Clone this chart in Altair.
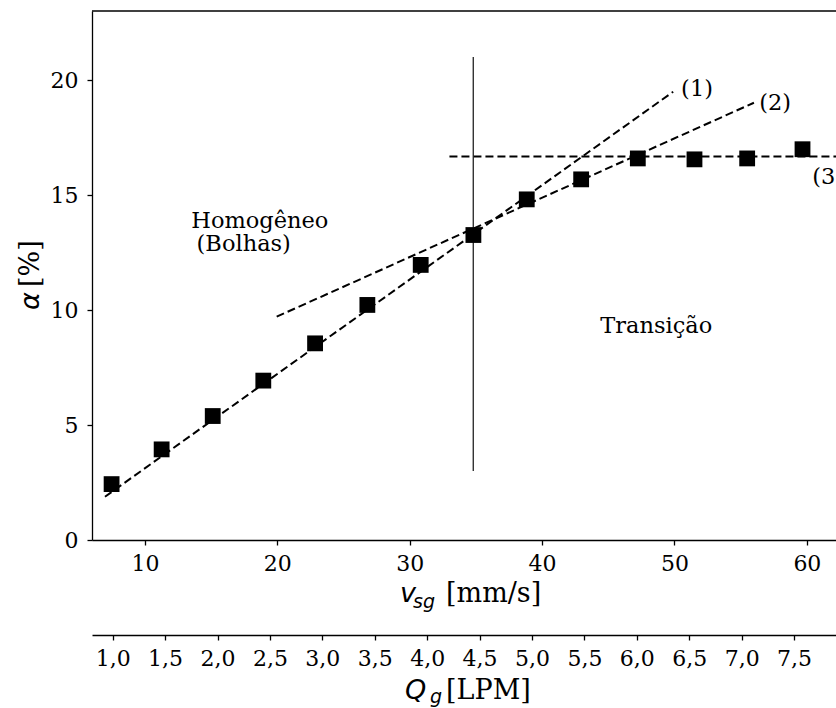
import altair as alt
import pandas as pd

# ---- data ----
vsg = [7.48, 11.26, 15.12, 18.94, 22.85, 26.80, 30.83, 34.81, 38.84, 42.95, 47.23, 51.51, 55.49, 59.67]
alpha = [2.43, 3.94, 5.39, 6.93, 8.55, 10.22, 11.96, 13.26, 14.81, 15.68, 16.59, 16.55, 16.59, 16.99]

fit1_x = [6.98, 49.9]
fit1_y = [1.88, 19.49]
fit2_x = [19.95, 56.0]
fit2_y = [9.71, 19.01]
fit3_x = [33.0, 64.0]
fit3_y = [16.67, 16.67]

vline_x = [34.8]
vline_y1 = [3.0]
vline_y2 = [21.0]

vsg_ticks = [10, 20, 30, 40, 50, 60]
alpha_ticks = [0, 5, 10, 15, 20]
q_ticks = [1.0, 1.5, 2.0, 2.5, 3.0, 3.5, 4.0, 4.5, 5.0, 5.5, 6.0, 6.5, 7.0, 7.5]

ann_text = ["(1)", "(2)", "(3)", "Homogêneo", "(Bolhas)", "Transição"]
ann_x = [50.5, 56.4, 60.4, 13.5, 13.9, 44.4]
ann_y = [19.3, 18.7, 15.5, 13.55, 12.58, 9.0]

# ---- tables ----
pts = pd.DataFrame({"vsg": vsg, "alpha": alpha})
fits = pd.DataFrame({
    "vsg": fit1_x + fit2_x + fit3_x,
    "alpha": fit1_y + fit2_y + fit3_y,
    "serie": ["1"] * 2 + ["2"] * 2 + ["3"] * 2,
})
vl = pd.DataFrame({"vsg": vline_x, "a1": vline_y1, "a2": vline_y2})
ann = pd.DataFrame({"vsg": ann_x, "alpha": ann_y, "t": ann_text})
qdf = pd.DataFrame({"Q": q_ticks})
one = pd.DataFrame({"_": [0]})

W, H = 744, 529
SERIF = "DejaVu Serif"
SANS = "DejaVu Sans"

xscale = alt.Scale(domain=[6.0, 62.2], nice=False, zero=False)
yscale = alt.Scale(domain=[0, 23], nice=False, zero=False)

xenc = alt.X("vsg:Q", scale=xscale,
             axis=alt.Axis(values=vsg_ticks, title=None, grid=False, format="d"))
yenc = alt.Y("alpha:Q", scale=yscale,
             axis=alt.Axis(values=alpha_ticks, title=None, grid=False, format="d",
                           labelPadding=9))

lines = alt.Chart(fits).mark_line(
    color="black", strokeWidth=2, strokeDash=[8, 4], clip=True
).encode(x=xenc, y=yenc, detail="serie:N")

vrule = alt.Chart(vl).mark_rule(color="#222222", strokeWidth=1.3).encode(
    x="vsg:Q", y="a1:Q", y2="a2:Q"
)

points = alt.Chart(pts).mark_point(
    shape="square", size=250, filled=True, color="black", opacity=1
).encode(x="vsg:Q", y="alpha:Q")

texts = alt.Chart(ann).mark_text(
    font=SERIF, fontSize=22.5, align="left", baseline="alphabetic", color="black"
).encode(x="vsg:Q", y="alpha:Q", text="t:N")

top_spine = alt.Chart(one).mark_rule(color="black", strokeWidth=1.3).encode(
    x=alt.value(0), x2=alt.value(W), y=alt.value(0)
)


def piece(txt, x, y, font, size, italic=False, angle=0):
    kw = dict(text=txt, font=font, fontSize=size, align="left",
              baseline="alphabetic", color="black")
    if italic:
        kw["fontStyle"] = "italic"
    if angle:
        kw["angle"] = angle
    return alt.Chart(one).mark_text(**kw).encode(x=alt.value(x), y=alt.value(y))


TS = 27
SS = 19
titles = [
    piece("v", 308, 591, SANS, TS, italic=True),
    piece("sg", 321, 597, SANS, SS, italic=True),
    piece("[mm/s]", 354, 591, SERIF, TS),
    piece("Q", 313, 688, SANS, TS, italic=True),
    piece("g", 338, 692, SANS, SS, italic=True),
    piece("[LPM]", 354, 688, SERIF, TS),
    piece("α", -53, 299, SANS, TS, italic=True, angle=270),
    piece("[%]", -53, 276, SERIF, TS, angle=270),
]

main = alt.layer(lines, vrule, points, texts, top_spine, *titles)

qlayer = alt.Chart(qdf).mark_point(opacity=0).encode(
    x=alt.X("Q:Q", scale=alt.Scale(domain=[0.8025, 7.9], nice=False, zero=False),
            axis=alt.Axis(orient="bottom", offset=95, values=q_ticks, title=None,
                          grid=False,
                          labelExpr="replace(format(datum.value, '.1f'), '.', ',')")),
    y=alt.value(0),
)

chart = alt.layer(main, qlayer).resolve_scale(x="independent").properties(
    width=W, height=H,
    autosize=alt.AutoSizeParams(type="none"),
    padding={"left": 92, "top": 11, "right": 0, "bottom": 168},
).configure_view(strokeWidth=0).configure_axis(
    labelFont=SERIF, labelFontSize=22, labelColor="black",
    domainColor="black", domainWidth=1.3, tickColor="black", tickWidth=1.3,
    tickSize=5, labelPadding=8, labelFlush=False, labelOverlap=False,
)

chart.save("out.html", embed_options={"renderer": "svg", "actions": False})
